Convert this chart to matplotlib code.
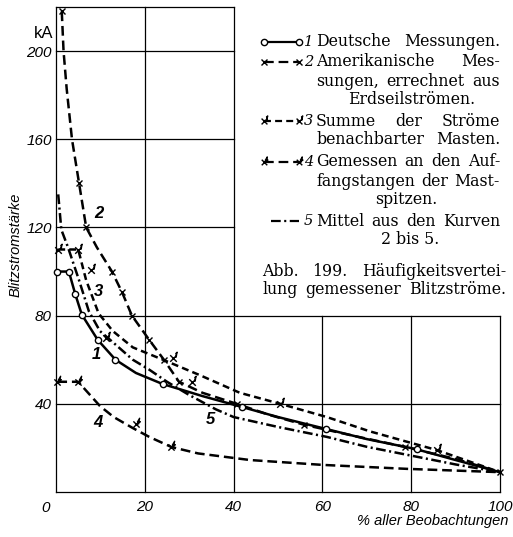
import matplotlib
matplotlib.use("Agg")
import matplotlib.pyplot as plt
from matplotlib.lines import Line2D
from matplotlib.path import Path

plt.rcParams['lines.scale_dashes'] = False

# Kurve 1: Deutsche Messungen
c1_x = [0.3, 2.9, 4.3, 5.8, 9.4, 13.4, 18, 24, 33, 42, 50, 61, 70, 81, 90, 100]
c1_y = [100, 100, 90, 80.5, 69, 60, 54, 49, 43.5, 38.5, 34, 28.5, 24, 19.5, 14.5, 9]
c1_mx = [0.3, 2.9, 4.3, 5.8, 9.4, 13.4, 24, 42, 60.8, 81.3]
c1_my = [100, 100, 90, 80.5, 69, 60, 49, 38.5, 28.5, 19.5]

# Kurve 2: Amerikanische Messungen
c2_x = [1.3, 1.7, 2.4, 3.6, 5.2, 6.8, 9.2, 12.6, 14.9, 17.1, 21, 24.3, 27.7, 33, 40.7, 48, 55.9, 67, 78.7, 90, 100]
c2_y = [218, 200, 183, 160, 140, 120, 111, 100, 90.5, 80, 69, 60, 50, 45, 40, 35, 30.5, 25.5, 20.4, 15, 9]
c2_mx = [1.3, 5.2, 6.8, 12.6, 14.9, 17.1, 21, 24.3, 27.7, 40.7, 55.9, 78.7, 100]
c2_my = [218, 140, 120, 100, 90.5, 80, 69, 60, 50, 40, 30.5, 20.4, 9]

# Kurve 3: Summe der Ströme benachbarter Masten
c3_x = [0.5, 5, 6.8, 9.6, 12.8, 17.3, 24.1, 32.4, 41.4, 50.5, 61, 70.7, 85.8, 100]
c3_y = [110, 110, 96, 81, 73, 65.6, 60, 53, 45, 40, 34, 27.5, 19, 9]
c3_mx = [0.5, 4.9, 7.9, 11.2, 26.3, 30.7, 50.5, 85.8]
c3_my = [110, 110, 100.5, 70, 60.6, 50, 40, 19]

# Kurve 4: Gemessen an den Auffangstangen
c4_x = [0.3, 5, 7, 9.9, 13, 17.3, 21, 26, 32, 43.7, 60, 79, 100]
c4_y = [50, 50, 45.5, 39, 34, 29, 25, 20.4, 17.5, 14.5, 12.3, 10.5, 9]
c4_mx = [0.3, 5, 18, 26]
c4_my = [50, 50, 31, 20.4]

# Kurve 5: Mittel aus den Kurven 2 bis 5
c5_x = [0.5, 1.2, 2.7, 5.2, 7.4, 9.9, 12.2, 17.3, 21, 25, 30, 36, 40, 50, 61, 70, 80, 90, 100]
c5_y = [135, 119, 111, 96, 82, 73, 69, 60, 55.5, 50, 44, 37.5, 34, 29.5, 25, 20.5, 16.5, 12.5, 9]

x_ticks = [20, 40, 60, 80, 100]
y_ticks = [40, 80, 120, 160, 200]

W, H = 513, 537


def px(x, y):
    return x / W, 1 - y / H


def flag_marker(kind):
    M, L = Path.MOVETO, Path.LINETO
    verts = [(-1, -1), (1, 1), (-1, 1), (1, -1)]
    codes = [M, L, M, L]
    if kind == 1:
        verts += [(0.7, 0.2), (1.1, 1.9), (0.6, 1.4)]
        codes += [M, L, L]
    else:
        verts += [(0.6, 0.0), (1.0, 2.0), (0.3, 0.8), (1.4, 0.9)]
        codes += [M, L, L, L]
    return Path(verts, codes)


m3 = flag_marker(1)
m4 = flag_marker(4)

fig = plt.figure(figsize=(W / 100, H / 100), dpi=100)
ax = fig.add_axes([56 / W, 45 / H, 444 / W, 485 / H])
ax.set_xlim(0, 100)
ax.set_ylim(0, 220)
for s in ax.spines.values():
    s.set_visible(False)

# Gitter (L-förmig)
gk = dict(color='black', lw=0.9, clip_on=False, zorder=1)
ax.plot([0, 0], [0, 220], **gk)
ax.plot([0, 100], [0, 0], **gk)
ax.plot([100, 100], [0, 80], **gk)
ax.plot([0, 40], [220, 220], **gk)
ax.plot([0, 100], [80, 80], **gk)
ax.plot([0, 100], [40, 40], **gk)
for yy in [120, 160, 200]:
    ax.plot([0, 40], [yy, yy], **gk)
for xx in [20, 40]:
    ax.plot([xx, xx], [0, 220], **gk)
for xx in [60, 80]:
    ax.plot([xx, xx], [0, 80], **gk)

lk = dict(color='black', lw=1.8, zorder=3, clip_on=False)
ax.plot(c1_x, c1_y, '-', **lk)
ax.plot(c2_x, c2_y, dashes=(7, 3.5), **lk)
ax.plot(c3_x, c3_y, dashes=(5, 3), **lk)
ax.plot(c4_x, c4_y, dashes=(7, 3.5), **lk)
ax.plot(c5_x, c5_y, dashes=(7, 2.5, 1.5, 2.5), **lk)

ax.plot(c1_mx, c1_my, 'o', ms=4.5, mfc='white', mec='black', mew=1, zorder=4, clip_on=False)
ax.plot(c2_mx, c2_my, 'x', ms=5, color='black', mew=1, zorder=4, clip_on=False)
ax.plot(c3_mx, c3_my, marker=m3, ls='none', ms=9, color='black', mew=1, zorder=4, clip_on=False)
ax.plot(c4_mx, c4_my, marker=m4, ls='none', ms=9, color='black', mew=1, zorder=4, clip_on=False)

tick_font = dict(family='Liberation Sans', style='italic', size=11)
ax.set_xticks(x_ticks)
ax.set_xticklabels([str(v) for v in x_ticks], fontdict=tick_font)
ax.set_yticks(y_ticks)
ax.set_yticklabels([str(v) for v in y_ticks], fontdict=tick_font)
ax.tick_params(length=0, pad=3)
ax.tick_params(axis='x', pad=6)
ax.text(-2.3, -7.3, '0', ha='center', va='center', **tick_font)

# Kurvenbeschriftungen
for lab, xx, yy in [('2', 9.7, 126.4), ('3', 9.5, 91), ('1', 9.2, 62.3), ('4', 9.5, 31.4), ('5', 34.7, 32.7)]:
    ax.text(xx, yy, lab, ha='center', va='center', family='Liberation Sans',
            style='italic', weight='bold', size=12)

fig.text(*px(44, 33), 'kA', ha='center', va='center', family='Liberation Sans', size=12)
fig.text(*px(16, 245), 'Blitzstromstärke', rotation=90, ha='center', va='center',
         family='Liberation Sans', style='italic', size=10.5)
fig.text(*px(508, 521), '% aller Beobachtungen', ha='right', va='center',
         family='Liberation Sans', style='italic', size=10.5)

# Legende
fig.canvas.draw()
rend = fig.canvas.get_renderer()
serif = dict(family='DejaVu Serif', size=11.3)


def justify(words, x0, x1, y):
    texts = [fig.text(0, 0, w, va='center', ha='left', **serif) for w in words]
    widths = [t.get_window_extent(rend).width for t in texts]
    gap = (x1 - x0 - sum(widths)) / max(len(words) - 1, 1)
    x = x0
    for t, w in zip(texts, widths):
        t.set_position(px(x, y))
        x += w + gap


def center(s, xc, y):
    fig.text(*px(xc, y), s, va='center', ha='center', **serif)


def num(s, y):
    fig.text(*px(304, y), s, va='center', ha='left', family='DejaVu Serif', style='italic', size=10.5)


rows = [42, 62, 81, 100, 121, 140, 162, 181, 199, 221, 240, 271, 290]


def sym(y, marker=None, dashes=None, ms=4.5, mfc='black', x0=264, x1=299):
    ln = Line2D([x0 / W, x1 / W], [1 - y / H, 1 - y / H], transform=fig.transFigure,
                color='black', lw=1.6, marker=marker, ms=ms, mfc=mfc, mec='black', mew=1)
    if dashes:
        ln.set_dashes(dashes)
    fig.add_artist(ln)


sym(rows[0], marker='o', mfc='white')
num('1', rows[0])
justify(['Deutsche', 'Messungen.'], 316, 500, rows[0])

sym(rows[1], marker='x', dashes=(7, 3.5), ms=4)
num('2', rows[1])
justify(['Amerikanische', 'Mes-'], 316, 500, rows[1])
justify(['sungen,', 'errechnet', 'aus'], 316, 500, rows[2])
center('Erdseilströmen.', 412, rows[3])

sym(rows[4], marker=m3, dashes=(5, 3), ms=8)
num('3', rows[4])
justify(['Summe', 'der', 'Ströme'], 316, 500, rows[4])
justify(['benachbarter', 'Masten.'], 316, 500, rows[5])

sym(rows[6], marker=m4, dashes=(7, 3.5), ms=8)
num('4', rows[6])
justify(['Gemessen', 'an', 'den', 'Auf-'], 316, 500, rows[6])
justify(['fangstangen', 'der', 'Mast-'], 316, 500, rows[7])
center('spitzen.', 406, rows[8])

sym(rows[9], dashes=(7, 2.5, 1.5, 2.5), x0=271, x1=299)
num('5', rows[9])
justify(['Mittel', 'aus', 'den', 'Kurven'], 316, 500, rows[9])
center('2 bis 5.', 410, rows[10])

justify(['Abb.', '199.', 'Häufigkeitsvertei-'], 262, 506, rows[11])
justify(['lung', 'gemessener', 'Blitzströme.'], 262, 506, rows[12])

fig.savefig('out.png', dpi=100)
